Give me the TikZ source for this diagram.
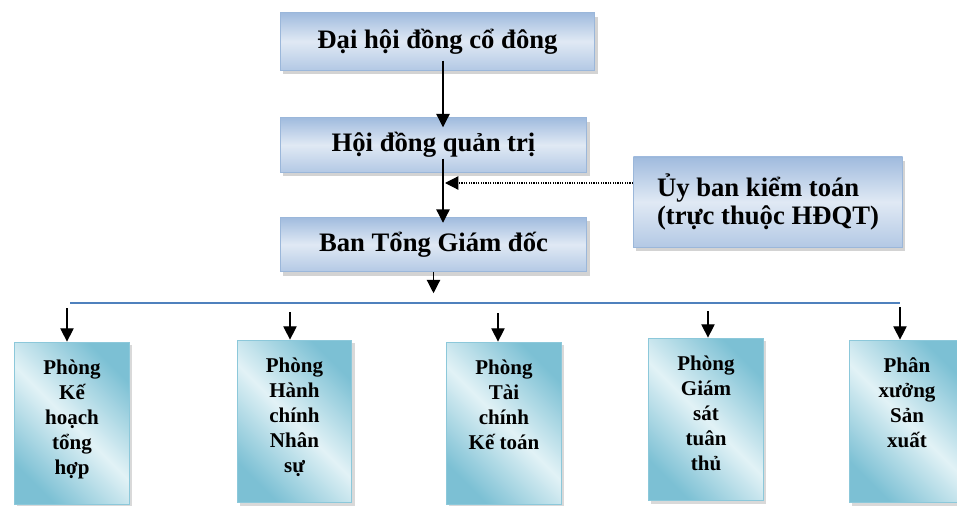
\documentclass[tikz,border=0pt]{standalone}
\usepackage{fontspec}
\setmainfont{Liberation Serif}
\usetikzlibrary{arrows.meta,shadows,calc}
\definecolor{lineblue}{HTML}{4F81BD}
\definecolor{topedge}{HTML}{9BB7DA}
\definecolor{topdark}{HTML}{A0BBDE}
\definecolor{toplight}{HTML}{E0E9F4}
\definecolor{deptedge}{HTML}{8CC8DA}
\definecolor{deptdark}{HTML}{7CC0D4}
\definecolor{deptlight}{HTML}{E2F2F6}
\tikzstyle{topbox}=[draw=topedge,line width=0.6pt,top color=topdark,bottom color=topdark!80,middle color=toplight,
  drop shadow={shadow xshift=2pt,shadow yshift=-3pt,opacity=0.35},inner sep=0pt,
  font=\fontsize{20}{21}\selectfont\bfseries]
\tikzstyle{deptbox}=[draw=deptedge,line width=0.8pt,left color=deptdark,right color=deptdark,middle color=deptlight,shading angle=135,
  drop shadow={shadow xshift=2pt,shadow yshift=-2pt,opacity=0.3},inner xsep=0pt,inner ysep=13pt,
  font=\fontsize{15.75}{18.75}\selectfont\bfseries]
\tikzstyle{arr}=[line width=0.9pt,-{Triangle[width=10pt,length=10pt]}]
\tikzstyle{dotarr}=[line width=0.9pt,dash pattern=on 0.9pt off 0.9pt,-{Triangle[width=10pt,length=10pt]}]
\tikzstyle{bus}=[draw=lineblue,line width=1.1pt]
\newcommand{\dept}[1]{\parbox[c][96pt][t]{86pt}{\centering #1}}

\begin{document}
\begin{tikzpicture}[x=0.75pt,y=-0.75pt]
    \useasboundingbox (0,0) rectangle (957,506);
    \node[topbox,minimum width=236pt,minimum height=43pt] (dhdcd) at (437.5,41.5) {Đại hội đồng cổ đông};
    \node[topbox,minimum width=230pt,minimum height=41pt] (hdqt) at (433.5,145) {Hội đồng quản trị};
    \node[topbox,minimum width=230pt,minimum height=41pt] (btgd) at (433.5,244.5) {Ban Tổng Giám đốc};
    \node[topbox,minimum width=202pt,minimum height=67.5pt,align=left] (ubkt) at (768,202) {Ủy ban kiểm toán\\(trực thuộc HĐQT)};

    \foreach \name/\x/\y/\txt in {pkh/72/423.5/{Phòng\\Kế\\hoạch\\tổng\\hợp},
        phc/294.5/421.5/{Phòng\\Hành\\chính\\Nhân\\sự},
        ptc/504/423.5/{Phòng\\Tài\\chính\\Kế toán},
        pgs/706/419.5/{Phòng\\Giám\\sát\\tuân\\thủ},
        pxsx/907/421.5/{Phân\\xưởng\\Sản\\xuất}}
    \node[deptbox] (\name) at (\x,\y) {\dept{\txt}};

    \coordinate (spine) at (443,0);
    \draw[arr] ($(dhdcd.south -| spine)+(0,-10)$) -- ($(hdqt.north -| spine)+(0,10)$);
    \draw[arr] ($(hdqt.south -| spine)+(0,-14)$) -- ($(btgd.north -| spine)+(0,6)$);
    \draw[dotarr] ($(ubkt.west)+(0,-19)$) -- ($(ubkt.west -| spine)+(2,-19)$);
    \draw[arr] (btgd.south) -- ($(btgd.south)+(0,21)$);

    \coordinate (busL) at (70,303);
    \coordinate (busR) at (900,303);
    \draw[bus] (busL) -- (busR);
    \foreach \name/\ax/\sy in {pkh/67/308,phc/290/312,ptc/498/313,pgs/708/311,pxsx/900/307}
    {
    \coordinate (t-\name) at (\ax,\sy);
    \draw[arr] (t-\name) -- (t-\name |- \name.north);
    }
\end{tikzpicture}
\end{document}
